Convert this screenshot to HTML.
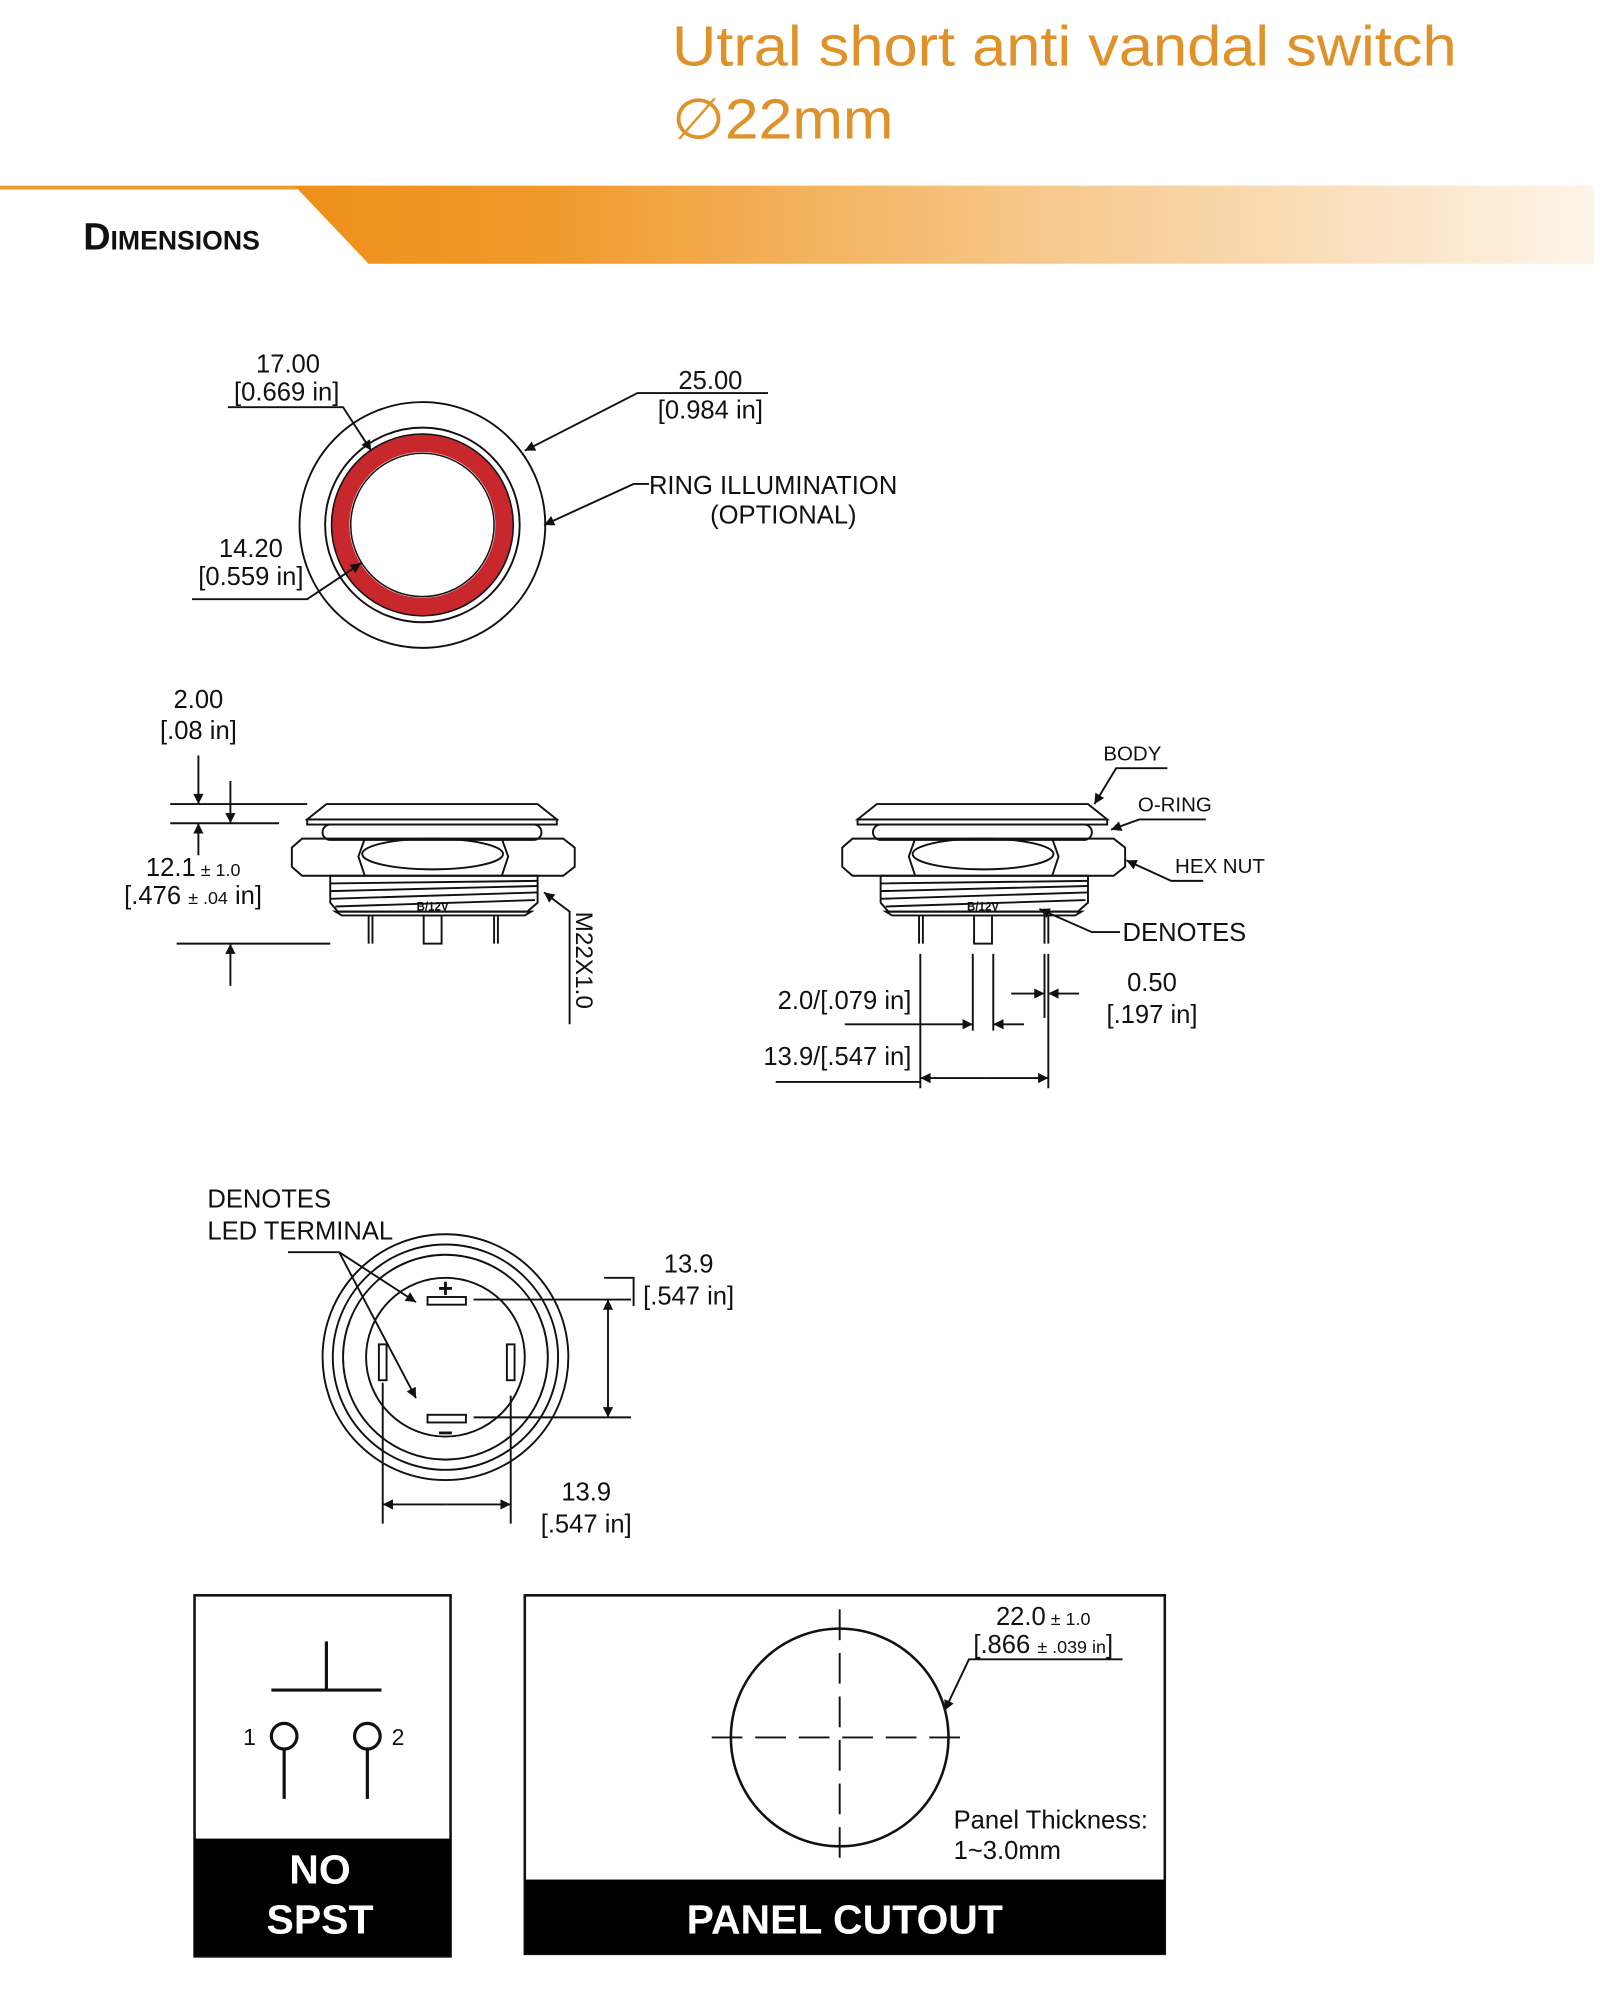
<!DOCTYPE html>
<html><head><meta charset="utf-8"><style>
html,body{margin:0;padding:0;background:#fff}
svg{display:block}
text{font-family:"Liberation Sans",sans-serif;fill:#111}
</style></head><body>
<svg width="1600" height="2014" viewBox="0 0 1250 1573" preserveAspectRatio="none" xmlns="http://www.w3.org/2000/svg">
<defs>
<linearGradient id="g" x1="0" x2="1" y1="0" y2="0">
<stop offset="0" stop-color="#ef8f1a"/><stop offset="0.2" stop-color="#f09a2c"/><stop offset="0.55" stop-color="#f6c585"/><stop offset="1" stop-color="#fdf4e8"/></linearGradient>
<marker id="a" viewBox="0 0 10 10" refX="10" refY="5" markerWidth="10" markerHeight="8" orient="auto" markerUnits="userSpaceOnUse"><path d="M0,0 L10,5 L0,10z" fill="#111"/></marker>
</defs>
<!-- header -->
<text x="525" y="51" font-size="44" textLength="613" lengthAdjust="spacingAndGlyphs" style="fill:#e0922a">Utral short anti vandal switch</text>
<text x="525" y="108" font-size="44" textLength="173" lengthAdjust="spacingAndGlyphs" style="fill:#e0922a">∅22mm</text>
<rect x="0" y="145" width="232" height="3" fill="#ef9a2c"/>
<polygon points="230,145 1245,145 1245,206 288,206" fill="url(#g)"/>
<text x="65" y="195" font-size="30" font-weight="bold" textLength="138" lengthAdjust="spacingAndGlyphs" style="font-variant:small-caps">Dimensions</text>

<g fill="none" stroke="#111" stroke-width="1.5">
<!-- top view -->
<circle cx="330" cy="410" r="96"/>
<circle cx="330" cy="410" r="76"/>
<circle cx="330" cy="410" r="64" stroke="#c8282c" stroke-width="14"/>
<circle cx="330" cy="410" r="71" stroke-width="1.2"/>
<circle cx="330" cy="410" r="56" stroke-width="1.2"/>
<polyline points="178,318 268,318 290,352" marker-end="url(#a)"/>
<polyline points="600,307 498,307 410,352" marker-end="url(#a)"/>
<polyline points="507,378 495,378 425,410" marker-end="url(#a)"/>
<polyline points="150,468 240,468 282,440" marker-end="url(#a)"/>

<!-- side view -->
<g id="sv">
<polygon points="255,628 420,628 435,640 240,640"/>
<rect x="240" y="640" width="195" height="4"/>
<rect x="252" y="644" width="171" height="12" rx="6"/>
<polygon points="236,655 440,655 449,662 449,677 440,684 236,684 228,677 228,662"/>
<polyline points="285,655 280,669 285,684"/><polyline points="392,655 397,669 392,684"/>
<ellipse cx="338" cy="667" rx="55" ry="12"/>
<path d="M258,684 L420,684 L420,705 L412,712 L264,712 L258,705Z"/>
<path d="M258,690 L420,688 M258,696 L420,692 M258,702 L420,697 M262,708 L418,703"/>
<path d="M262,712 L415,712 L410,715 L267,715 Z"/>
<line x1="288" y1="715" x2="288" y2="737"/><line x1="291" y1="715" x2="291" y2="737"/>
<rect x="331" y="715" width="14" height="22"/>
<line x1="386" y1="715" x2="386" y2="737"/><line x1="389" y1="715" x2="389" y2="737"/>
</g>
<use href="#sv" transform="translate(430 0)"/>

<!-- left dims -->
<line x1="155" y1="590" x2="155" y2="628" marker-end="url(#a)"/>
<line x1="133" y1="628" x2="240" y2="628"/>
<line x1="133" y1="643" x2="218" y2="643"/>
<line x1="180" y1="610" x2="180" y2="643" marker-end="url(#a)"/>
<line x1="155" y1="668" x2="155" y2="643" marker-end="url(#a)"/>
<line x1="138" y1="737" x2="258" y2="737"/>
<line x1="180" y1="770" x2="180" y2="737" marker-end="url(#a)"/>
<polyline points="445,800 445,712 425,697" marker-end="url(#a)"/>

<!-- right labels -->
<polyline points="912,600 872,600 855,628" marker-end="url(#a)"/>
<polyline points="942,640 890,640 868,648" marker-end="url(#a)"/>
<polyline points="940,688 915,688 880,672" marker-end="url(#a)"/>
<polyline points="875,728 853,728 812,710" marker-end="url(#a)"/>
<line x1="719" y1="745" x2="719" y2="850"/>
<line x1="760" y1="745" x2="760" y2="805"/>
<line x1="776" y1="745" x2="776" y2="805"/>
<line x1="816" y1="745" x2="816" y2="795"/>
<line x1="819" y1="745" x2="819" y2="850"/>
<line x1="660" y1="800" x2="760" y2="800" marker-end="url(#a)"/>
<line x1="800" y1="800" x2="776" y2="800" marker-end="url(#a)"/>
<line x1="790" y1="776" x2="816" y2="776" marker-end="url(#a)"/>
<line x1="843" y1="776" x2="819" y2="776" marker-end="url(#a)"/>
<line x1="770" y1="842" x2="819" y2="842" marker-end="url(#a)"/>
<line x1="770" y1="842" x2="719" y2="842" marker-end="url(#a)"/>
<line x1="606" y1="845" x2="719" y2="845"/>

<!-- bottom view -->
<circle cx="348" cy="1060" r="96"/>
<circle cx="348" cy="1060" r="88"/>
<circle cx="348" cy="1060" r="80"/>
<circle cx="348" cy="1060" r="62"/>
<rect x="334" y="1013" width="30" height="6"/>
<rect x="334" y="1105" width="30" height="6"/>
<rect x="296" y="1050" width="6" height="28"/>
<rect x="396" y="1050" width="6" height="28"/>
<polyline points="225,978 265,978 325,1017" marker-end="url(#a)"/>
<line x1="265" y1="978" x2="325" y2="1092" marker-end="url(#a)"/>
<line x1="370" y1="1015" x2="493" y2="1015"/>
<line x1="370" y1="1107" x2="493" y2="1107"/>
<line x1="475" y1="1060" x2="475" y2="1015" marker-end="url(#a)"/>
<line x1="475" y1="1060" x2="475" y2="1107" marker-end="url(#a)"/>
<polyline points="472,998 495,998 495,1020"/>
<line x1="299" y1="1080" x2="299" y2="1190"/>
<line x1="399" y1="1090" x2="399" y2="1190"/>
<line x1="349" y1="1175" x2="299" y2="1175" marker-end="url(#a)"/>
<line x1="349" y1="1175" x2="399" y2="1175" marker-end="url(#a)"/>

<!-- boxes -->
<rect x="152" y="1246" width="200" height="282" stroke-width="2"/>
<line x1="255" y1="1282" x2="255" y2="1320" stroke-width="2.5"/>
<line x1="212" y1="1320" x2="298" y2="1320" stroke-width="2.5"/>
<circle cx="222" cy="1356" r="10" stroke-width="2.5"/>
<circle cx="287" cy="1356" r="10" stroke-width="2.5"/>
<line x1="222" y1="1366" x2="222" y2="1405" stroke-width="2.5"/>
<line x1="287" y1="1366" x2="287" y2="1405" stroke-width="2.5"/>
<rect x="410" y="1246" width="500" height="280" stroke-width="2"/>
<circle cx="656" cy="1357" r="85" stroke-width="2"/>
<line x1="556" y1="1357" x2="756" y2="1357" stroke-dasharray="24,10"/>
<line x1="656" y1="1257" x2="656" y2="1457" stroke-dasharray="24,10"/>
<polyline points="877,1296 757,1296 738,1336" marker-end="url(#a)"/>
</g>
<rect x="152" y="1436" width="200" height="92" fill="#000"/>
<rect x="410" y="1468" width="500" height="58" fill="#000"/>

<g font-size="20">
<text x="225" y="291" text-anchor="middle">17.00</text>
<text x="224" y="313" text-anchor="middle">[0.669 in]</text>
<text x="555" y="304" text-anchor="middle">25.00</text>
<text x="555" y="327" text-anchor="middle">[0.984 in]</text>
<text x="507" y="386">RING ILLUMINATION</text>
<text x="612" y="409" text-anchor="middle">(OPTIONAL)</text>
<text x="196" y="435" text-anchor="middle">14.20</text>
<text x="196" y="457" text-anchor="middle">[0.559 in]</text>
<text x="155" y="553" text-anchor="middle">2.00</text>
<text x="155" y="577" text-anchor="middle">[.08 in]</text>
<text x="114" y="684">12.1<tspan font-size="14"> ± 1.0</tspan></text>
<text x="97" y="706">[.476 <tspan font-size="14">± .04</tspan> in]</text>
<text x="450" y="712" transform="rotate(90 450 712)" font-size="19">M22X1.0</text>
<text x="862" y="594" font-size="16">BODY</text>
<text x="889" y="634" font-size="16">O-RING</text>
<text x="918" y="682" font-size="16">HEX NUT</text>
<text x="877" y="735">DENOTES</text>
<text x="712" y="788" text-anchor="end">2.0/[.079 in]</text>
<text x="712" y="832" text-anchor="end">13.9/[.547 in]</text>
<text x="900" y="774" text-anchor="middle">0.50</text>
<text x="900" y="799" text-anchor="middle">[.197 in]</text>
<text x="162" y="943">DENOTES</text>
<text x="162" y="968">LED TERMINAL</text>
<text x="348" y="1013" text-anchor="middle" font-weight="bold">+</text>
<text x="348" y="1126" text-anchor="middle" font-weight="bold">−</text>
<text x="538" y="994" text-anchor="middle">13.9</text>
<text x="538" y="1019" text-anchor="middle">[.547 in]</text>
<text x="458" y="1172" text-anchor="middle">13.9</text>
<text x="458" y="1197" text-anchor="middle">[.547 in]</text>
<text x="195" y="1363" text-anchor="middle" font-size="18">1</text>
<text x="311" y="1363" text-anchor="middle" font-size="18">2</text>
<text x="815" y="1269" text-anchor="middle">22.0<tspan font-size="14"> ± 1.0</tspan></text>
<text x="815" y="1291" text-anchor="middle">[.866 <tspan font-size="14">± .039 in</tspan>]</text>
<text x="745" y="1428">Panel Thickness:</text>
<text x="745" y="1452">1~3.0mm</text>
</g>
<g font-size="9" font-weight="bold"><text x="338" y="711" text-anchor="middle">B/12V</text><text x="768" y="711" text-anchor="middle">B/12V</text></g>
<g font-size="32" font-weight="bold" text-anchor="middle">
<text x="250" y="1471" style="fill:#fff">NO</text>
<text x="250" y="1510" style="fill:#fff">SPST</text>
<text x="660" y="1510" style="fill:#fff">PANEL CUTOUT</text>
</g>
</svg>
</body></html>
